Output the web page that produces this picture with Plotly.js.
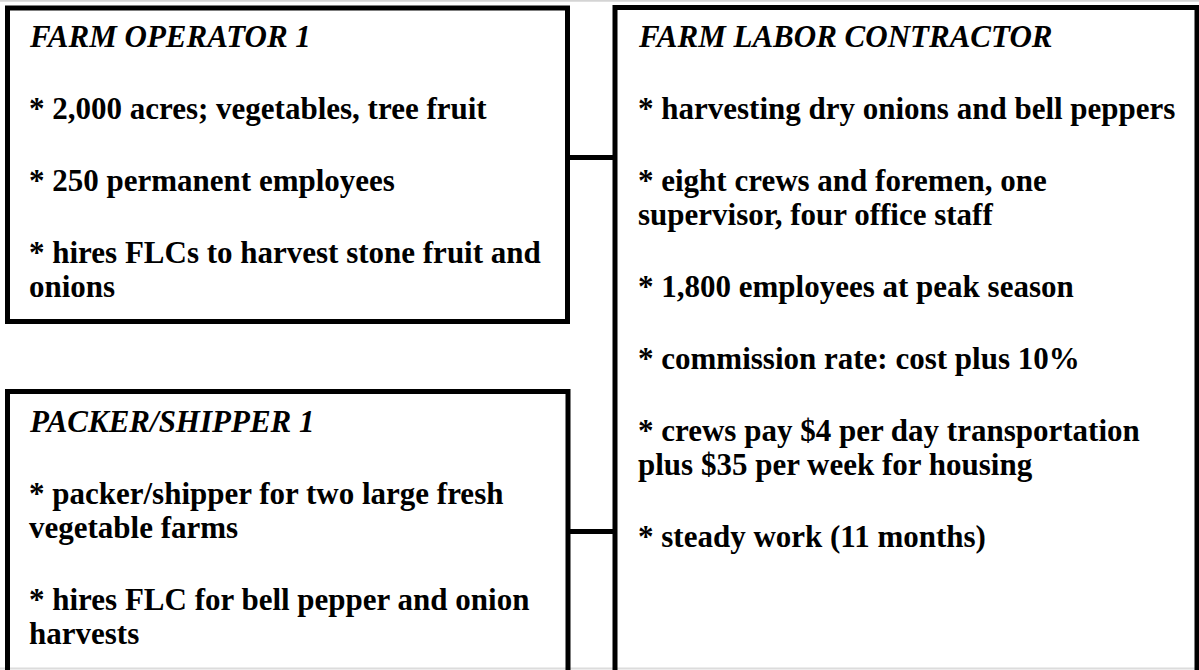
<!DOCTYPE html>
<html>
<head>
<meta charset="utf-8">
<script src="https://cdn.plot.ly/plotly-3.0.1.min.js"></script>
<style>
  html, body { margin: 0; padding: 0; background: #ffffff; }
  #chart { width: 1199px; height: 670px; }
</style>
</head>
<body>
<div id="chart"></div>
<script>
// ---- Content (text) ----
const operatorTitle = 'FARM OPERATOR 1';
const operatorItems = [
  ['* 2,000 acres; vegetables, tree fruit'],
  ['* 250 permanent employees'],
  ['* hires FLCs to harvest stone fruit and', 'onions']
];

const packerTitle = 'PACKER/SHIPPER 1';
const packerItems = [
  ['* packer/shipper for two large fresh', 'vegetable farms'],
  ['* hires FLC for bell pepper and onion', 'harvests']
];

const contractorTitle = 'FARM LABOR CONTRACTOR';
const contractorItems = [
  ['* harvesting dry onions and bell peppers'],
  ['* eight crews and foremen, one', 'supervisor, four office staff'],
  ['* 1,800 employees at peak season'],
  ['* commission rate: cost plus 10%'],
  ['* crews pay $4 per day transportation', 'plus $35 per week for housing'],
  ['* steady work (11 months)']
];

// ---- Drawing ----
const W = 1199, H = 670;
const FS = 31;
const FONT = 'Liberation Serif, Times New Roman, serif';
const annotations = [];
const shapes = [];

function textLine(str, x, baseline, italic) {
  annotations.push({
    x: x, y: baseline - 0.34 * FS, xref: 'x', yref: 'y',
    text: italic ? '<i>' + str + '</i>' : str,
    showarrow: false, xanchor: 'left', yanchor: 'middle', borderpad: 0,
    font: { family: FONT, size: FS, color: '#000000', weight: 'bold' }
  });
}

function boxText(title, items, x, baseline) {
  let y = baseline;
  textLine(title, x, y, true);
  y += 72;
  items.forEach(item => {
    item.forEach((ln, i) => {
      textLine(ln, x, y, false);
      if (i < item.length - 1) y += 34;
    });
    y += 72;
  });
}

boxText(operatorTitle, operatorItems, 28, 47);
boxText(packerTitle, packerItems, 28, 432);
boxText(contractorTitle, contractorItems, 637, 47);

const BORDER = { color: '#000000', width: 5 };
// faint page edges
shapes.push({ type: 'line', xref: 'x', yref: 'y', x0: 0, x1: W, y0: 0.8, y1: 0.8, line: { color: '#d4d4d4', width: 2 }, layer: 'below' });
shapes.push({ type: 'line', xref: 'x', yref: 'y', x0: 0, x1: W, y0: 668.5, y1: 668.5, line: { color: '#dcdcdc', width: 2 }, layer: 'below' });
// boxes
shapes.push({ type: 'rect', xref: 'x', yref: 'y', x0: 7.5, x1: 567.5, y0: 8, y1: 321.5, line: BORDER, fillcolor: 'rgba(0,0,0,0)' });
shapes.push({ type: 'rect', xref: 'x', yref: 'y', x0: 7.5, x1: 568, y0: 391.5, y1: 720, line: BORDER, fillcolor: 'rgba(0,0,0,0)' });
shapes.push({ type: 'rect', xref: 'x', yref: 'y', x0: 615, x1: 1197, y0: 7.5, y1: 720, line: BORDER, fillcolor: 'rgba(0,0,0,0)' });
// connectors
shapes.push({ type: 'line', xref: 'x', yref: 'y', x0: 567.5, x1: 615, y0: 157.5, y1: 157.5, line: BORDER });
shapes.push({ type: 'line', xref: 'x', yref: 'y', x0: 568, x1: 615, y0: 531.5, y1: 531.5, line: BORDER });

const layout = {
  width: W, height: H,
  margin: { l: 0, r: 0, t: 0, b: 0, pad: 0 },
  paper_bgcolor: '#ffffff', plot_bgcolor: '#ffffff',
  xaxis: { range: [0, W], visible: false, fixedrange: true },
  yaxis: { range: [H, 0], visible: false, fixedrange: true },
  showlegend: false,
  annotations: annotations,
  shapes: shapes
};

Plotly.newPlot('chart', [], layout, { displayModeBar: false, staticPlot: true });
</script>
</body>
</html>
